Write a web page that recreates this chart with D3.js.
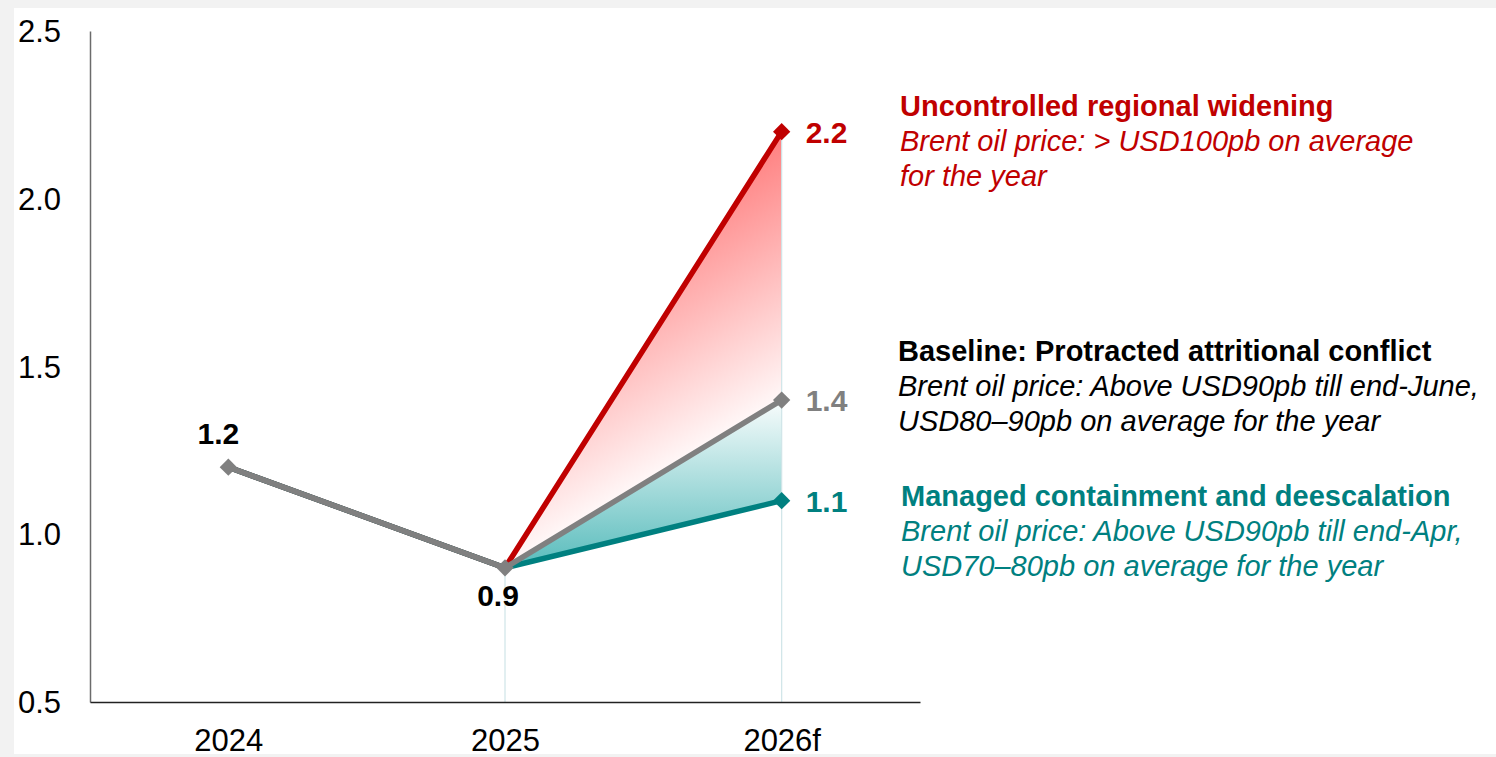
<!DOCTYPE html>
<meta charset="utf-8">
<style>
  body { margin: 0; background: #f2f2f2; }
  svg { display: block; font-family: "Liberation Sans", Arial, sans-serif; }
  .axis text { fill: #000; font-size: 31px; }
  .y.axis path { stroke: #6b6b6b; stroke-width: 1.5; }
  .x.axis path { stroke: #222; stroke-width: 1.5; }
  .val { font-weight: bold; font-size: 30px; }
  .note { font-size: 29px; }
  .note .head { font-weight: bold; }
  .note .sub { font-style: italic; }
</style>
<body>
<script src="https://cdnjs.cloudflare.com/ajax/libs/d3/7.8.5/d3.min.js"></script>
<script>
var years = ["2024", "2025", "2026f"];
var baseline = [1.2, 0.9, 1.4];
var widening = [1.2, 0.9, 2.2];
var containment = [1.2, 0.9, 1.1];
var yTicks = [0.5, 1.0, 1.5, 2.0, 2.5];

var notes = [
  { key: "widening", color: "#c00000", x: 900, y: 116,
    lines: ["Uncontrolled regional widening", "Brent oil price: > USD100pb on average", "for the year"] },
  { key: "baseline", color: "#000000", x: 898, y: 361,
    lines: ["Baseline: Protracted attritional conflict", "Brent oil price: Above USD90pb till end-June,", "USD80\u201390pb on average for the year"] },
  { key: "containment", color: "#008080", x: 901, y: 506,
    lines: ["Managed containment and deescalation", "Brent oil price: Above USD90pb till end-Apr,", "USD70\u201380pb on average for the year"] }
];

var red = "#c00000", grey = "#808080", teal = "#008080";

var W = 1496, H = 757;
var svg = d3.select("body").append("svg")
    .attr("width", W)
    .attr("height", H);

// white panel on grey page
svg.append("rect")
    .attr("x", 14).attr("y", 8)
    .attr("width", W - 14).attr("height", 746)
    .attr("fill", "#fff");

var x = d3.scalePoint()
    .domain(years)
    .range([90, 920])
    .padding(0.5);

var y = d3.scaleLinear()
    .domain([0.5, 2.5])
    .range([702, 31]);

function pts(series) {
  return series.map(function(v, i) { return [x(years[i]), y(v)]; });
}

var defs = svg.append("defs");

// red fill fades towards the baseline line (gradient perpendicular to it)
var g0 = [x("2025"), y(0.9)], g1 = [x("2026f"), y(1.4)];
var peak = [x("2026f"), y(2.2)];
var gdx = g1[0] - g0[0], gdy = g1[1] - g0[1];
var t = ((peak[0] - g0[0]) * gdx + (peak[1] - g0[1]) * gdy) / (gdx * gdx + gdy * gdy);
var foot = [g0[0] + t * gdx, g0[1] + t * gdy];

var redGrad = defs.append("linearGradient")
    .attr("id", "redGrad")
    .attr("gradientUnits", "userSpaceOnUse")
    .attr("x1", peak[0]).attr("y1", peak[1])
    .attr("x2", foot[0]).attr("y2", foot[1]);
redGrad.append("stop").attr("offset", "0%").attr("stop-color", "#ff7f7f");
redGrad.append("stop").attr("offset", "100%").attr("stop-color", "#fff8f8");

var tealGrad = defs.append("linearGradient")
    .attr("id", "tealGrad")
    .attr("gradientUnits", "userSpaceOnUse")
    .attr("x1", 0).attr("y1", y(1.42))
    .attr("x2", 0).attr("y2", y(0.9));
tealGrad.append("stop").attr("offset", "0%").attr("stop-color", "#ffffff");
tealGrad.append("stop").attr("offset", "100%").attr("stop-color", "#58bcbc");

// areas between scenarios (2025 -> 2026f)
var area = d3.area()
    .x(function(d) { return d[0]; })
    .y0(function(d) { return d[1]; })
    .y1(function(d) { return d[2]; });

svg.append("path")
    .datum([1, 2].map(function(i) { return [x(years[i]), y(widening[i]), y(baseline[i])]; }))
    .attr("d", area)
    .attr("fill", "url(#redGrad)");

svg.append("path")
    .datum([1, 2].map(function(i) { return [x(years[i]), y(baseline[i]), y(containment[i])]; }))
    .attr("d", area)
    .attr("fill", "url(#tealGrad)");

// drop lines
[1, 2].forEach(function(i) {
  svg.append("line")
      .attr("x1", x(years[i])).attr("x2", x(years[i]))
      .attr("y1", y(Math.max(widening[i], baseline[i], containment[i])))
      .attr("y2", y(0.5))
      .attr("stroke", "#cfe5e8")
      .attr("stroke-width", 1.2);
});

// axes
var yAxis = svg.append("g")
    .attr("class", "y axis")
    .attr("transform", "translate(90,0)")
    .call(d3.axisLeft(y).tickValues(yTicks).tickFormat(d3.format(".1f")).tickSize(0));
yAxis.selectAll("text")
    .attr("x", -72)
    .attr("dy", "0.34em")
    .attr("text-anchor", "start");

var xAxis = svg.append("g")
    .attr("class", "x axis")
    .attr("transform", "translate(0,702)")
    .call(d3.axisBottom(x).tickSize(0));
xAxis.selectAll("text")
    .attr("y", 49)
    .attr("dy", null);
svg.selectAll(".axis").attr("font-size", null).attr("font-family", null);

// lines
var line = d3.line();
[[widening, red], [containment, teal], [baseline, grey]].forEach(function(s) {
  svg.append("path")
      .attr("d", line(pts(s[0])))
      .attr("fill", "none")
      .attr("stroke", s[1])
      .attr("stroke-width", 5.5)
      .attr("stroke-linejoin", "round");
});

// markers
var diamond = d3.symbol(d3.symbolSquare, 150);
var markers = [
  [years[2], widening[2], red],
  [years[2], containment[2], teal],
  [years[0], baseline[0], grey],
  [years[1], baseline[1], grey],
  [years[2], baseline[2], grey]
];
svg.selectAll(".mark")
    .data(markers)
    .enter().append("path")
    .attr("class", "mark")
    .attr("d", diamond)
    .attr("transform", function(d) { return "translate(" + x(d[0]) + "," + y(d[1]) + ") rotate(45)"; })
    .attr("fill", function(d) { return d[2]; });

// value labels
var labels = [
  { text: "2.2", year: "2026f", v: widening[2], color: red, dx: 24, dy: 11, anchor: "start" },
  { text: "1.4", year: "2026f", v: baseline[2], color: grey, dx: 24, dy: 11, anchor: "start" },
  { text: "1.1", year: "2026f", v: containment[2], color: teal, dx: 24, dy: 11, anchor: "start" },
  { text: "1.2", year: "2024", v: baseline[0], color: "#000", dx: -10, dy: -23, anchor: "middle" },
  { text: "0.9", year: "2025", v: baseline[1], color: "#000", dx: -7, dy: 38, anchor: "middle" }
];
svg.selectAll(".val")
    .data(labels)
    .enter().append("text")
    .attr("class", "val")
    .attr("x", function(d) { return x(d.year) + d.dx; })
    .attr("y", function(d) { return y(d.v) + d.dy; })
    .attr("text-anchor", function(d) { return d.anchor; })
    .attr("fill", function(d) { return d.color; })
    .text(function(d) { return d.text; });

// scenario notes
notes.forEach(function(n) {
  var txt = svg.append("text")
      .attr("class", "note")
      .attr("fill", n.color);
  n.lines.forEach(function(l, i) {
    txt.append("tspan")
        .attr("class", i == 0 ? "head" : "sub")
        .attr("x", n.x)
        .attr("y", n.y + i * 35)
        .text(l);
  });
});
</script>
</body>
